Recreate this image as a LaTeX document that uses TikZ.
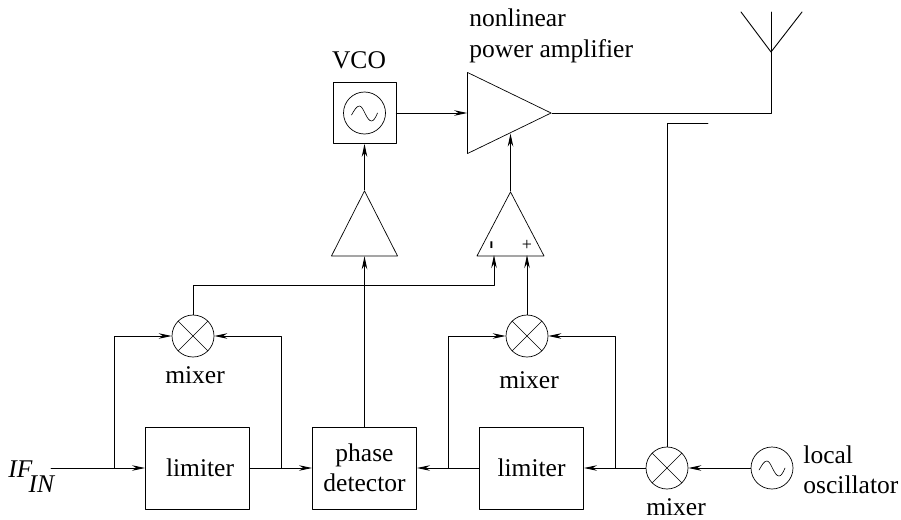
\documentclass[tikz,border=0pt]{standalone}
\usepackage{fontspec}
\setmainfont{Liberation Serif}
\usetikzlibrary{arrows.meta,shapes.geometric}

\tikzset{
  lbl/.style={font=\fontsize{25.5}{30}\selectfont, inner sep=0pt},
  blockbox/.style={draw, rectangle, lbl, align=center, minimum width=104pt, minimum height=82pt},
  mixerbox/.style={draw, circle, minimum size=42pt, inner sep=0pt, line width=0.7pt,
    path picture={
      \draw[line width=0.5pt] (path picture bounding box.north west) -- (path picture bounding box.south east);
      \draw[line width=0.5pt] (path picture bounding box.north east) -- (path picture bounding box.south west);
    }},
  oscbox/.style={draw, circle, minimum size=42pt, inner sep=0pt, line width=0.7pt,
    path picture={
      \draw[line width=0.6pt, shift={(path picture bounding box.center)}]
        (-13,2) .. controls (-10,-3) and (-8,-7) .. (-5,-7)
        .. controls (-1,-7) and (2,8) .. (7,8)
        .. controls (9,8) and (11,5) .. (13,0);
    }},
  ampbox/.style={draw, isosceles triangle, isosceles triangle stretches, inner sep=0pt, line width=0.7pt}
}

\begin{document}
\begin{tikzpicture}[x=1pt, y=-1pt, >={Stealth[length=13pt,width=5.5pt]}, line cap=round, line join=round, line width=0.9pt]

% --- Parameters (px) ---
\def\ymain{468}   % row of the limiters
\def\ymix{336}    % row of the upper mixers
\def\ytop{113}    % row of the VCO and amplifier

\useasboundingbox (0,0) rectangle (901,519);

% --- Bottom row ---
\node[blockbox] (limiterA) at (197.5,\ymain) {\hspace{5pt}limiter};
\node[blockbox] (phase) at (364.5,\ymain) {phase\\detector};
\node[blockbox] (limiterB) at (531.5,\ymain) {limiter};
\node[mixerbox] (mixerC) at (667,\ymain) {};
\node[oscbox] (osclocal) at (772,\ymain) {};

% --- Upper mixers ---
\node[mixerbox] (mixerA) at (193,\ymix) {};
\node[mixerbox] (mixerB) at (527,\ymix) {};

% --- Amplifiers and VCO ---
\node[ampbox, shape border rotate=90, minimum width=66pt, minimum height=65pt, anchor=apex] (vcoamp) at (364.5,190) {};
\node[ampbox, shape border rotate=90, minimum width=67pt, minimum height=64pt, anchor=apex] (opamp) at (510.5,191) {};
\node[draw, rectangle, line width=0.7pt, minimum width=63pt, minimum height=61pt] (vco) at (364.5,\ytop) {};
\node[oscbox] (oscvco) at (364.5,\ytop) {};
\node[ampbox, minimum width=81pt, minimum height=83.5pt, anchor=apex] (pa) at (552,\ytop) {};

% --- Labels ---
\node[lbl, anchor=base] (lblvco) at (359,68) {VCO};
\node[lbl, anchor=base west] (lblpa) at (469,27) {nonlinear};
\node[lbl, anchor=base west] (lblpb) at (469,57) {power amplifier};
\node[lbl, anchor=base] (lblmixA) at (195,383) {mixer};
\node[lbl, anchor=base] (lblmixB) at (529,388) {mixer};
\node[lbl, anchor=base] (lblmixC) at (676,515) {mixer};
\node[lbl, anchor=base west] (lblosca) at (803,463) {local};
\node[lbl, anchor=base west] (lbloscb) at (803,493) {oscillator};
\node[lbl, anchor=base west] (lblif) at (8,477) {\textit{IF}\hspace{-4pt}\raisebox{-15pt}{\textit{IN}}};
\node[font=\fontsize{18}{18}\selectfont, inner sep=0pt] (lblplus) at (527,245.5) {+};
\node[font=\fontsize{26}{26}\selectfont, inner sep=0pt, rotate=90] (lblminus) at (494,245.5) {-};

% --- Free ends and branch points ---
\coordinate (ifstart) at (51,\ymain);
\coordinate (branchA) at (114,\ymain);
\coordinate (branchB) at (281,\ymain);
\coordinate (branchC) at (448,\ymain);
\coordinate (branchD) at (615,\ymain);
\coordinate (opminus) at (494,255);
\coordinate (opplus) at (527,255);
\coordinate (tapend) at (708,123);
\coordinate (antbase) at (771,52);
\coordinate (anttop) at (771,12);
\coordinate (antleft) at (741,12);
\coordinate (antright) at (802,12);

% --- Signal path ---
\draw[->] (ifstart) -- (limiterA);
\draw[->] (limiterA) -- (phase);
\draw[->] (limiterB) -- (phase);
\draw[->] (mixerC) -- (limiterB);
\draw[->] (osclocal) -- (mixerC);
\draw[->] (branchA) |- (mixerA);
\draw[->] (branchB) |- (mixerA);
\draw[->] (branchC) |- (mixerB);
\draw[->] (branchD) |- (mixerB);
\draw[->] (phase) -- (vcoamp.lower side);
\draw[->] (vcoamp.apex) -- (vco);
\draw[->] (vco) -- (pa.lower side);
\draw[->] (mixerA.north) -- ++(0,-29) -| (opminus);
\draw[->] (mixerB.north) -- (opplus);
\draw[->] (opamp.apex) -- (opamp.apex |- pa.right side);

% --- Output and antenna ---
\draw (pa.apex) -| (anttop);
\draw (antleft) -- (antbase) -- (antright);
\draw (mixerC.north) |- (tapend);

\end{tikzpicture}
\end{document}
